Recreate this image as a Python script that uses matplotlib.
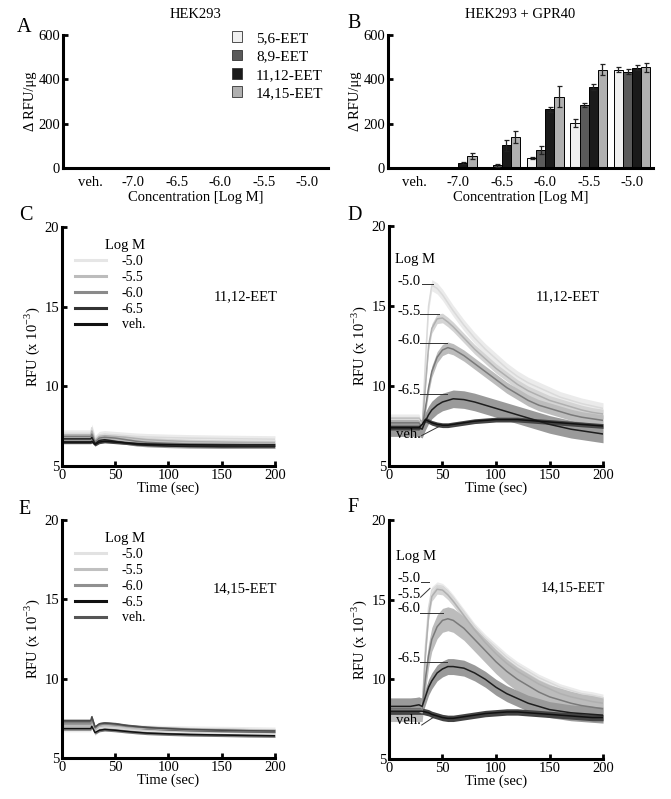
import numpy as np
import matplotlib
matplotlib.use("Agg")
import matplotlib.pyplot as plt
from matplotlib.patches import Patch
from matplotlib.lines import Line2D

plt.rcParams['font.family'] = ['Liberation Serif', 'DejaVu Serif']
plt.rcParams['mathtext.fontset'] = 'custom'
plt.rcParams['mathtext.rm'] = 'Liberation Serif'
plt.rcParams['axes.unicode_minus'] = False
plt.rcParams['font.size'] = 9.5

# ---- bar data (panel A and B) ----
conc_labels = ['veh.', '-7.0', '-6.5', '-6.0', '-5.5', '-5.0']
eet_names = ['5,6-EET', '8,9-EET', '11,12-EET', '14,15-EET']
bar_colors = ['#f0f0f0', '#5a5a5a', '#1a1a1a', '#b0b0b0']

hek_vals = [[0, 0, 0, 0, 0, 0],
            [0, 0, 0, 0, 0, 0],
            [0, 0, 0, 0, 0, 0],
            [0, 0, 0, 0, 0, 0]]

gpr_56 = [0, 0, 0, 45, 205, 443]
gpr_89 = [0, 0, 12, 80, 285, 435]
gpr_1112 = [0, 22, 103, 265, 365, 452]
gpr_1415 = [0, 55, 140, 322, 443, 455]
gpr_56_err = [0, 0, 0, 3, 18, 12]
gpr_89_err = [0, 0, 6, 18, 10, 12]
gpr_1112_err = [0, 6, 25, 12, 12, 12]
gpr_1415_err = [0, 15, 28, 48, 25, 20]

# ---- time courses ----
dose_labels = ['-5.0', '-5.5', '-6.0', '-6.5', 'veh.']

t_flat = [0, 10, 20, 27, 28, 31, 35, 40, 50, 60, 70, 80, 100, 120, 150, 175, 200]
c_m50 = [7.05, 7.05, 7.05, 7.05, 7.4, 6.7, 6.95, 7.0, 6.95, 6.9, 6.85, 6.82, 6.78, 6.75, 6.72, 6.7, 6.68]
c_m55 = [6.95, 6.95, 6.95, 6.95, 7.2, 6.6, 6.85, 6.9, 6.85, 6.8, 6.72, 6.65, 6.58, 6.53, 6.5, 6.48, 6.47]
c_m60 = [6.85, 6.85, 6.85, 6.85, 7.0, 6.5, 6.75, 6.8, 6.75, 6.65, 6.55, 6.48, 6.42, 6.38, 6.35, 6.33, 6.32]
c_m65 = [6.7, 6.7, 6.7, 6.7, 6.8, 6.4, 6.6, 6.65, 6.55, 6.45, 6.35, 6.3, 6.25, 6.22, 6.2, 6.2, 6.2]
c_veh = [6.5, 6.5, 6.5, 6.5, 6.55, 6.35, 6.5, 6.55, 6.5, 6.45, 6.4, 6.37, 6.35, 6.33, 6.32, 6.32, 6.32]

e_m50 = [6.85, 6.85, 6.85, 6.85, 7.1, 6.6, 6.9, 6.95, 6.95, 6.92, 6.9, 6.88, 6.85, 6.82, 6.8, 6.78, 6.75]
e_m55 = [7.0, 7.0, 7.0, 7.0, 7.35, 6.75, 7.0, 7.05, 7.0, 6.95, 6.9, 6.87, 6.82, 6.78, 6.75, 6.72, 6.7]
e_m60 = [7.15, 7.15, 7.15, 7.15, 7.45, 6.9, 7.1, 7.15, 7.1, 7.0, 6.95, 6.9, 6.85, 6.8, 6.77, 6.74, 6.72]
e_m65 = [6.85, 6.85, 6.85, 6.85, 7.0, 6.6, 6.75, 6.8, 6.75, 6.68, 6.62, 6.57, 6.52, 6.48, 6.45, 6.42, 6.4]
e_veh = [7.35, 7.35, 7.35, 7.35, 7.6, 6.95, 7.15, 7.2, 7.15, 7.05, 6.98, 6.92, 6.85, 6.8, 6.75, 6.72, 6.7]

t_resp = [0, 10, 20, 28, 31, 34, 37, 40, 45, 50, 55, 60, 70, 80, 90, 100,
          110, 120, 130, 140, 150, 160, 170, 180, 190, 200]
d_m50 = [7.9, 7.9, 7.9, 7.9, 7.4, 11.5, 15.0, 16.3, 16.1, 15.7, 15.2, 14.7, 13.8, 13.0, 12.3, 11.7,
         11.1, 10.6, 10.2, 9.9, 9.6, 9.3, 9.1, 8.9, 8.75, 8.6]
d_m55 = [7.8, 7.8, 7.8, 7.8, 7.4, 10.0, 12.5, 13.6, 14.2, 14.25, 14.0, 13.7, 13.0, 12.3, 11.7, 11.1,
         10.6, 10.1, 9.7, 9.4, 9.1, 8.9, 8.7, 8.5, 8.35, 8.25]
d_m60 = [7.7, 7.7, 7.7, 7.7, 7.4, 8.6, 9.9, 10.9, 11.8, 12.25, 12.4, 12.3, 11.9, 11.4, 10.9, 10.4,
         9.9, 9.5, 9.1, 8.8, 8.6, 8.4, 8.2, 8.05, 7.95, 7.85]
d_m65 = [7.4, 7.4, 7.4, 7.4, 7.3, 7.8, 8.2, 8.5, 8.8, 9.0, 9.1, 9.2, 9.15, 9.0, 8.8, 8.6,
         8.4, 8.2, 8.0, 7.8, 7.6, 7.45, 7.3, 7.2, 7.1, 7.0]
d_veh = [7.4, 7.4, 7.4, 7.4, 7.6, 7.9, 7.8, 7.7, 7.6, 7.55, 7.55, 7.6, 7.7, 7.8, 7.85, 7.9,
         7.9, 7.9, 7.85, 7.8, 7.75, 7.7, 7.65, 7.6, 7.55, 7.5]

f_m50 = [8.0, 8.0, 8.0, 8.0, 8.0, 12.0, 14.5, 15.6, 15.9, 15.8, 15.5, 15.1, 14.2, 13.3, 12.6, 12.0,
         11.4, 10.9, 10.5, 10.1, 9.8, 9.5, 9.3, 9.1, 9.0, 8.85]
f_m55 = [8.0, 8.0, 8.0, 8.0, 7.9, 11.5, 14.0, 15.2, 15.65, 15.6, 15.3, 14.9, 14.0, 13.1, 12.3, 11.6,
         11.0, 10.5, 10.1, 9.7, 9.4, 9.1, 8.9, 8.75, 8.6, 8.5]
f_m60 = [8.1, 8.1, 8.1, 8.1, 8.1, 10.0, 11.5, 12.5, 13.3, 13.7, 13.8, 13.7, 13.2, 12.5, 11.8, 11.1,
         10.5, 10.0, 9.6, 9.2, 8.9, 8.7, 8.5, 8.35, 8.25, 8.15]
f_m65 = [8.3, 8.3, 8.3, 8.4, 8.3, 8.9, 9.5, 9.9, 10.4, 10.65, 10.8, 10.8, 10.7, 10.4, 10.0, 9.5,
         9.1, 8.8, 8.5, 8.3, 8.1, 8.0, 7.9, 7.85, 7.8, 7.75]
f_veh = [8.0, 8.0, 8.0, 8.0, 8.0, 7.95, 7.9, 7.8, 7.7, 7.6, 7.55, 7.55, 7.65, 7.75, 7.85, 7.9,
         7.95, 7.95, 7.9, 7.85, 7.8, 7.75, 7.7, 7.65, 7.6, 7.6]

c_sem = [0.22, 0.15, 0.12, 0.1, 0.1]
e_sem = [0.2, 0.15, 0.12, 0.1, 0.1]
d_sem = [0.35, 0.3, 0.35, 0.55, 0.15]
f_sem = [0.22, 0.3, 0.75, 0.5, 0.2]

line_cols = ['#dadada', '#b0b0b0', '#7a7a7a', '#1e1e1e', '#111111']
band_cols = ['#ebebeb', '#d4d4d4', '#bcbcbc', '#9a9a9a', '#444444']
e_line_cols = ['#dadada', '#b8b8b8', '#888888', '#111111', '#4a4a4a']
e_band_cols = ['#ebebeb', '#d4d4d4', '#bcbcbc', '#777777', '#666666']

SPW = 2.2


def style_axes(ax):
    for s in ['top', 'right']:
        ax.spines[s].set_visible(False)
    for s in ['left', 'bottom']:
        ax.spines[s].set_linewidth(SPW)
    ax.tick_params(direction='in', width=2, length=3.5, pad=2, labelsize=10.5)


def bar_panel(ax, series, errs, title):
    style_axes(ax)
    x = np.arange(len(conc_labels))
    w = 0.21
    for i, vals in enumerate(series):
        pos = x + (i - 1.5) * w
        ax.bar(pos, vals, w, color=bar_colors[i], edgecolor='k', linewidth=0.7,
               label=eet_names[i], zorder=2)
        if errs is not None:
            e = np.array(errs[i])
            m = e > 0
            ax.errorbar(pos[m], np.array(vals)[m], yerr=e[m], fmt='none',
                        ecolor='#222222', elinewidth=0.9, capsize=1.8, capthick=0.9, zorder=3)
    ax.set_xlim(-0.62, 5.48)
    ax.set_ylim(0, 600)
    ax.set_yticks([0, 200, 400, 600])
    ax.set_xticks(x)
    ax.set_xticklabels(conc_labels)
    ax.tick_params(axis='x', length=0, pad=6)
    ax.set_ylabel('\u0394 RFU/\u03bcg', fontsize=10.5, labelpad=1)
    ax.set_xlabel('Concentration [Log M]', fontsize=10.5, labelpad=1)
    ax.set_title(title, fontsize=10.5, pad=12)


def trace_panel(ax, t, ys, sems, lcols, bcols):
    style_axes(ax)
    for y, s, lc, bc in zip(ys, sems, lcols, bcols):
        y = np.array(y)
        ax.fill_between(t, y - s, y + s, color=bc, lw=0, zorder=1)
        ax.plot(t, y, color=lc, lw=1.1, zorder=2)
    ax.set_xlim(0, 200)
    ax.set_ylim(5, 20)
    ax.set_xticks([0, 50, 100, 150, 200])
    ax.set_yticks([5, 10, 15, 20])
    ax.set_xlabel('Time (sec)', fontsize=10.5, labelpad=0)
    ax.set_ylabel('RFU (x 10$^{-3}$)', fontsize=10.5, labelpad=2)


fig = plt.figure(figsize=(6.71, 7.99), dpi=100)

axA = fig.add_axes([0.0939, 0.7897, 0.3949, 0.1665])
axB = fig.add_axes([0.5782, 0.7897, 0.3950, 0.1665])
axC = fig.add_axes([0.0924, 0.4168, 0.3174, 0.2991])
axD = fig.add_axes([0.5797, 0.4168, 0.3190, 0.3003])
axE = fig.add_axes([0.0924, 0.0513, 0.3174, 0.2979])
axF = fig.add_axes([0.5797, 0.0501, 0.3190, 0.2991])

bar_panel(axA, hek_vals, None, 'HEK293')
bar_panel(axB, [gpr_56, gpr_89, gpr_1112, gpr_1415],
          [gpr_56_err, gpr_89_err, gpr_1112_err, gpr_1415_err], 'HEK293 + GPR40')

handles = [Patch(facecolor=c, edgecolor='#333333', linewidth=0.6) for c in bar_colors]
axA.legend(handles, eet_names, loc='upper right', bbox_to_anchor=(1.035, 1.13), frameon=False,
           handlelength=0.7, handleheight=0.7, handletextpad=0.9, labelspacing=0.3, fontsize=11)

trace_panel(axC, t_flat, [c_m50, c_m55, c_m60, c_m65, c_veh], c_sem, line_cols, band_cols)
trace_panel(axD, t_resp, [d_m50, d_m55, d_m60, d_m65, d_veh], d_sem, line_cols, band_cols)
trace_panel(axE, t_flat, [e_m50, e_m55, e_m60, e_m65, e_veh], e_sem, e_line_cols, e_band_cols)
trace_panel(axF, t_resp, [f_m50, f_m55, f_m60, f_m65, f_veh], f_sem, line_cols, band_cols)

# legends in C and E
c_leg_cols = ['#e6e6e6', '#bcbcbc', '#8a8a8a', '#333333', '#111111']
e_leg_cols = ['#e2e2e2', '#c0c0c0', '#909090', '#111111', '#555555']
for ax, cols in [(axC, c_leg_cols), (axE, e_leg_cols)]:
    hs = [Line2D([0], [0], color=c, lw=2.2) for c in cols]
    lg = ax.legend(hs, dose_labels, loc='upper left', bbox_to_anchor=(0.0, 1.0), frameon=False,
                   title='Log M', handlelength=2.3, handletextpad=1.1, labelspacing=0.2,
                   fontsize=10, title_fontsize=10.5)
    lg._legend_box.align = 'right'

axC.text(172, 15.6, '11,12-EET', ha='center', va='center', fontsize=10.5)
axE.text(172, 15.7, '14,15-EET', ha='center', va='center', fontsize=10.5)
axD.text(167, 15.6, '11,12-EET', ha='center', va='center', fontsize=10.5)
axF.text(172, 15.78, '14,15-EET', ha='center', va='center', fontsize=10.5)

# annotation labels in D
axD.text(5.6, 17.9, 'Log M', ha='left', va='center', fontsize=10.5)
d_ann = [('-5.0', 16.55, (30.6, 16.4), (41.4, 16.4)),
         ('-5.5', 14.65, (29.0, 14.5), (47.0, 14.5)),
         ('-6.0', 12.85, (29.0, 12.67), (54.0, 12.67)),
         ('-6.5', 9.7, (29.0, 9.5), (54.5, 9.5)),
         ('veh.', 6.95, (30.5, 6.9), (47.7, 7.5))]
for lab, ty, p0, p1 in d_ann:
    axD.text(29.5, ty, lab, ha='right', va='center', fontsize=10.5)
    axD.plot([p0[0], p1[0]], [p0[1], p1[1]], color='#333333', lw=0.7)

axF.text(6.5, 17.7, 'Log M', ha='left', va='center', fontsize=10.5)
f_ann = [('-5.0', 16.3, (30.0, 16.13), (37.7, 16.13)),
         ('-5.5', 15.3, (29.5, 15.15), (38.3, 15.71)),
         ('-6.0', 14.45, (29.0, 14.14), (50.8, 14.14)),
         ('-6.5', 11.3, (29.0, 11.07), (53.9, 11.07)),
         ('veh.', 7.4, (30.6, 7.13), (41.4, 7.61))]
for lab, ty, p0, p1 in f_ann:
    axF.text(29.5, ty, lab, ha='right', va='center', fontsize=10.5)
    axF.plot([p0[0], p1[0]], [p0[1], p1[1]], color='#333333', lw=0.7)

# panel letters
for lab, x, y in [('A', 0.025, 0.965), ('B', 0.518, 0.97), ('C', 0.028, 0.73),
                  ('D', 0.518, 0.73), ('E', 0.028, 0.362), ('F', 0.518, 0.365)]:
    fig.text(x, y, lab, fontsize=14.5, ha='left', va='center')

fig.savefig('out.png', dpi=100, facecolor='white')
